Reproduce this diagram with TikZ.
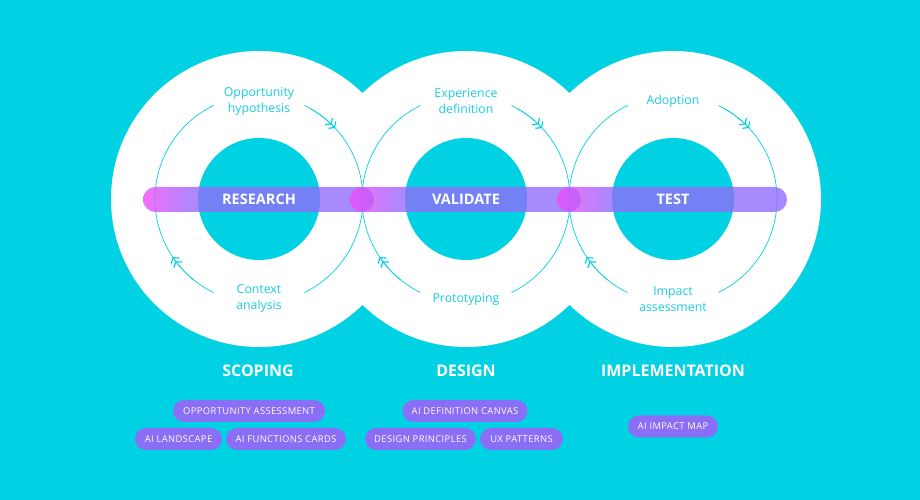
\documentclass[tikz,border=0pt]{standalone}
\usepackage{fontspec}
\setmainfont{Open Sans}
\usetikzlibrary{arrows.meta}

\definecolor{bgteal}{HTML}{00D2E4}
\definecolor{labelteal}{HTML}{1ACCE0}
\definecolor{barpink}{HTML}{F04CF8}
\definecolor{barpurple}{HTML}{926DFA}
\definecolor{pillviolet}{HTML}{8A6FF6}

% pink-to-violet fade along the first fifth of each bar segment
\pgfdeclarehorizontalshading{barshade}{100bp}{color(0bp)=(barpink); color(25bp)=(barpink); color(37bp)=(barpurple); color(100bp)=(barpurple)}

\tikzset{
  ring/.style={draw=bgteal, line width=0.7pt},
  cycletip/.style={-{Straight Barb[length=3.6pt,width=10pt,line width=1.2pt] Straight Barb[length=3.6pt,width=10pt,line width=1.2pt]}},
  ringlabel/.style={text=labelteal, align=center, font=\fontsize{12.3}{16}\selectfont},
  barlabel/.style={text=white, font=\fontsize{14.5}{16}\selectfont\bfseries},
  phase/.style={text=white, font=\fontsize{16}{18}\selectfont\bfseries},
  pill/.style={fill=pillviolet, text=white, rounded corners=11pt, minimum height=22pt, inner sep=0pt,
    font=\fontsize{9.4}{11}\selectfont\addfontfeatures{LetterSpace=4}},
  barseg/.style={shading=barshade, fill opacity=0.8, rounded corners=12.5pt}
}

\begin{document}
\begin{tikzpicture}[x=1pt,y=1pt]
  \fill[bgteal] (0,0) rectangle (920,500);
  \useasboundingbox (0,0) rectangle (920,500);

  \coordinate (c1) at (259,301);
  \coordinate (c2) at (466,301);
  \coordinate (c3) at (673,301);

  % white rings
  \foreach \c in {c1,c2,c3} \fill[white] (\c) circle[radius=148];
  \foreach \c in {c1,c2,c3} \fill[bgteal] (\c) circle[radius=61];

  % thin cycle arcs with gaps for the labels
  \foreach \c in {c1,c2,c3} {
    \draw[ring] (\c) ++(64:104) arc[start angle=64, end angle=-64, radius=104];
    \draw[ring] (\c) ++(116:104) arc[start angle=116, end angle=244, radius=104];
    \draw[ring, cycletip] (\c) ++(60:104) arc[start angle=60, end angle=43, radius=104];
    \draw[ring, cycletip] (\c) ++(231:104) arc[start angle=231, end angle=214, radius=104];
  }

  % horizontal bar, three overlapping segments
  \path[barseg] (143,288) rectangle (374,313);
  \path[barseg] (350,288) rectangle (581,313);
  \path[barseg] (557,288) rectangle (787,313);

  \node[barlabel] (research) at (259,300.5) {RESEARCH};
  \node[barlabel] (validate) at (466,300.5) {VALIDATE};
  \node[barlabel] (test) at (673,300.5) {TEST};

  % cycle labels
  \node[ringlabel] (hyp) at (259,399) {Opportunity\\hypothesis};
  \node[ringlabel] (ctx) at (259,201) {Context\\analysis};
  \node[ringlabel] (exp) at (466,399) {Experience\\definition};
  \node[ringlabel] (proto) at (466,201) {Prototyping};
  \node[ringlabel] (adopt) at (673,399) {Adoption};
  \node[ringlabel] (impact) at (673,201) {Impact\\assessment};

  % phase titles
  \node[phase] (scoping) at (258,129) {SCOPING};
  \node[phase] (design) at (466,129) {DESIGN};
  \node[phase] (impl) at (673,129) {IMPLEMENTATION};

  % tool pills
  \node[pill, minimum width=152pt] (oppass) at (249,89) {OPPORTUNITY ASSESSMENT};
  \node[pill, minimum width=87pt] (land) at (178.5,61) {AI LANDSCAPE};
  \node[pill, minimum width=120pt] (cards) at (286,61) {AI FUNCTIONS CARDS};
  \node[pill, minimum width=125pt] (canvas) at (465,89) {AI DEFINITION CANVAS};
  \node[pill, minimum width=111pt] (princ) at (420.5,61) {DESIGN PRINCIPLES};
  \node[pill, minimum width=83pt] (ux) at (521.5,61) {UX PATTERNS};
  \node[pill, minimum width=90pt] (map) at (673,73.5) {AI IMPACT MAP};
\end{tikzpicture}
\end{document}
